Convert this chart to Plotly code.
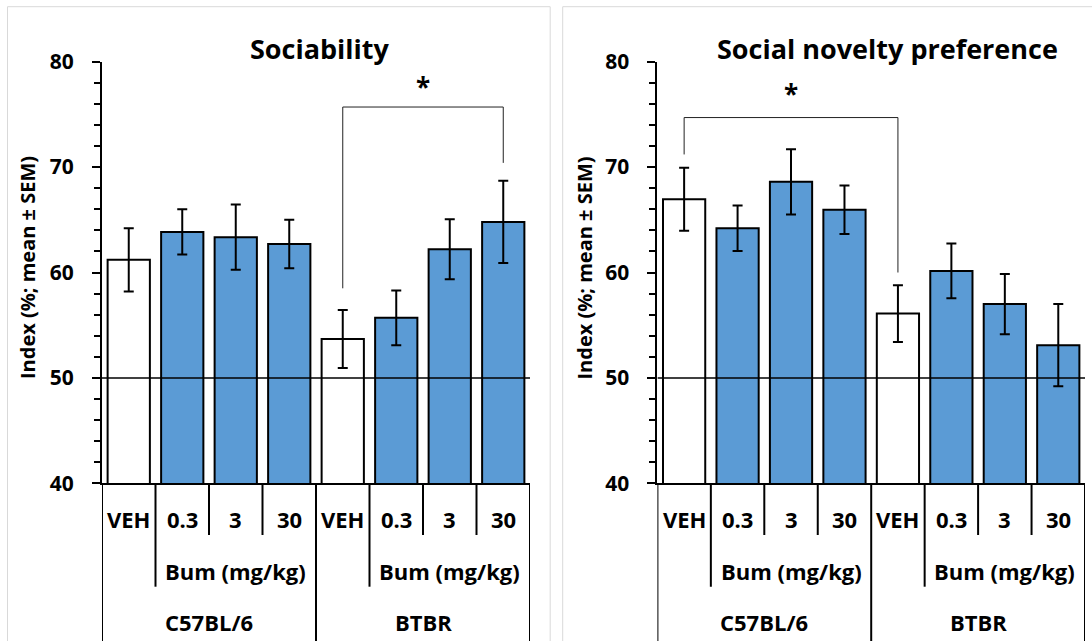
import plotly.graph_objects as go

W, H = 1092, 641

# ---------------- data ----------------
doses = ["VEH", "0.3", "3", "30", "VEH", "0.3", "3", "30"]
strains = ["C57BL/6", "BTBR"]
dose_group_label = "Bum (mg/kg)"

soc_mean = [61.2, 63.85, 63.35, 62.7, 53.7, 55.7, 62.2, 64.8]
soc_sem = [3.0, 2.15, 3.1, 2.3, 2.75, 2.6, 2.85, 3.9]

nov_mean = [66.95, 64.2, 68.6, 65.95, 56.1, 60.15, 57.0, 53.1]
nov_sem = [3.0, 2.15, 3.1, 2.3, 2.7, 2.6, 2.85, 3.9]

is_vehicle = [True, False, False, False, True, False, False, False]

# significance brackets: (left cat, right cat, top value, left foot, right foot, star y)
soc_bracket = (4, 7, 75.7, 58.5, 70.4, 77.6)
nov_bracket = (0, 4, 74.7, 71.2, 60.0, 76.9)

titles = ["Sociability", "Social novelty preference"]
ytitle = "Index (%; mean \u00b1 SEM)"

BLUE = "#5B9BD5"
FONT = "Open Sans"

# ---------------- layout geometry (pixels) ----------------
y_top_px, y_bot_px = 61.7, 483.3
panels = [
    dict(x0=102.0, x1=530.0, ytitle_x=27.0, title_x=319.5, border=(7.5, 550.2),
         ax="x", ay="y", xa="xaxis", ya="yaxis"),
    dict(x0=657.4, x1=1085.0, ytitle_x=583.5, title_x=887.0, border=(562.7, 1100),
         ax="x2", ay="y2", xa="xaxis2", ya="yaxis2"),
]
means = [soc_mean, nov_mean]
sems = [soc_sem, nov_sem]
brackets = [soc_bracket, nov_bracket]


def px_x(p):
    return p / W


def px_y(p):
    return 1 - p / H


fig = go.Figure()
shapes = []
annotations = []


def ann(**kw):
    kw.setdefault("showarrow", False)
    kw.setdefault("xanchor", "center")
    kw.setdefault("yanchor", "middle")
    annotations.append(kw)


cats = list(range(len(doses)))
for i, pn in enumerate(panels):
    colors = ["white" if v else BLUE for v in is_vehicle]
    fig.add_trace(go.Bar(
        x=cats, y=means[i], width=0.79,
        marker=dict(color=colors, line=dict(color="black", width=2)),
        error_y=dict(type="data", array=sems[i], visible=True, color="black", thickness=2, width=5),
        xaxis=pn["ax"], yaxis=pn["ay"], showlegend=False, hoverinfo="skip",
    ))
    fig.update_layout({
        pn["xa"]: dict(domain=[px_x(pn["x0"]), px_x(pn["x1"])], range=[-0.5, 7.5],
                       showticklabels=False, ticks="", showgrid=False, zeroline=False,
                       showline=True, linecolor="black", linewidth=2, anchor=pn["ay"],
                       automargin=False, fixedrange=True),
        pn["ya"]: dict(domain=[px_y(y_bot_px), px_y(y_top_px)], range=[40, 80],
                       dtick=10, tick0=40, ticks="outside", ticklen=8, tickwidth=2, tickcolor="black",
                       minor=dict(dtick=2, ticks="outside", ticklen=6, tickwidth=1.5, tickcolor="black"),
                       showgrid=False, zeroline=False, showline=True, linecolor="black", linewidth=2,
                       tickfont=dict(family=FONT, size=21, color="black", weight="bold"),
                       ticklabelstandoff=14, anchor=pn["ax"], automargin=False, fixedrange=True),
    })
    xr, yr = pn["ax"], pn["ay"]
    # reference line at 50
    shapes.append(dict(type="line", xref=xr, yref=yr, x0=-0.5, x1=7.55, y0=50, y1=50,
                       line=dict(color="black", width=1.5), layer="above"))
    # bracket
    l, r, top, lf, rf, sy = brackets[i]
    for (xa0, ya0, xa1, ya1) in [(l, lf, l, top), (l, top, r, top), (r, top, r, rf)]:
        shapes.append(dict(type="line", xref=xr, yref=yr, x0=xa0, y0=ya0, x1=xa1, y1=ya1,
                           line=dict(color="#222222", width=1), layer="above"))
    ann(x=(l + r) / 2, y=sy, xref=xr, yref=yr, text="<b>*</b>",
        font=dict(family=FONT, size=26, color="black"))
    # category separators
    yb = px_y(y_bot_px)
    for k in range(9):
        xb = k - 0.5
        if k in (0, 4, 8):
            yend = -0.01
        elif k in (1, 5):
            yend = px_y(586.7)
        else:
            yend = px_y(535.0)
        shapes.append(dict(type="line", xref=xr, yref="paper", x0=xb, x1=xb, y0=yb, y1=yend,
                           line=dict(color="black", width=2)))
    # category labels
    for c, lab in zip(cats, doses):
        ann(x=c, y=px_y(518.5), xref=xr, yref="paper", text="<b>%s</b>" % lab,
            font=dict(family=FONT, size=22, color="black"))
    for gc in (2, 6):
        ann(x=gc, y=px_y(571), xref=xr, yref="paper", text="<b>%s</b>" % dose_group_label,
            font=dict(family=FONT, size=22, color="black"))
    for gc, s in zip((1.5, 5.5), strains):
        ann(x=gc, y=px_y(622), xref=xr, yref="paper", text="<b>%s</b>" % s,
            font=dict(family=FONT, size=22, color="black"))
    # title
    ann(x=px_x(pn["title_x"]), y=px_y(48), xref="paper", yref="paper", text="<b>%s</b>" % titles[i],
        font=dict(family=FONT, size=27, color="black"))
    # y title
    ann(x=px_x(pn["ytitle_x"]), y=px_y(268), xref="paper", yref="paper",
        text="<b>%s</b>" % ytitle, textangle=-90,
        font=dict(family=FONT, size=20, color="black"))
    # panel border
    bx0, bx1 = pn["border"]
    shapes.append(dict(type="rect", xref="paper", yref="paper", x0=px_x(bx0), x1=px_x(bx1),
                       y0=-0.05, y1=px_y(6.7), line=dict(color="#D9D9D9", width=1), layer="below"))

fig.update_layout(
    width=W, height=H, margin=dict(l=0, r=0, t=0, b=0, autoexpand=False),
    paper_bgcolor="white", plot_bgcolor="white", showlegend=False,
    shapes=shapes, annotations=annotations, barmode="overlay",
)

fig.write_html(
    "out.html",
    config={"displayModeBar": False, "responsive": False},
    post_script="document.body.style.margin='0';document.body.style.overflow='hidden';",
)
